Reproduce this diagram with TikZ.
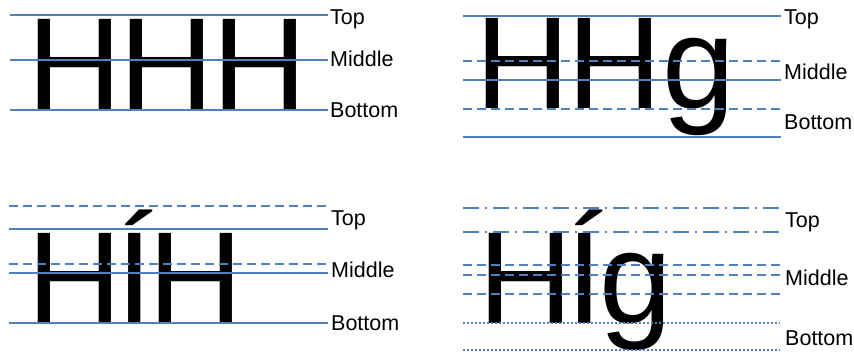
\documentclass[tikz,border=0pt]{standalone}
\usepackage{fontspec}
\setmainfont{Liberation Sans}
\definecolor{lineblue}{RGB}{79,129,189}
\tikzset{
  guide/.style={draw=lineblue,line width=1.8pt},
  dashguide/.style={guide,dash pattern=on 9pt off 5pt},
  dashdotguide/.style={guide,dash pattern=on 16pt off 6pt on 2pt off 6pt},
  dotguide/.style={guide,line width=1.8pt,dash pattern=on 2pt off 2pt},
  lbl/.style={anchor=base west,inner sep=0pt,font=\fontsize{21.5}{25}\selectfont},
  big/.style={anchor=base west,inner sep=0pt,font=\fontsize{131}{140}\selectfont}
}
\begin{document}
\begin{tikzpicture}[x=1pt,y=-1pt]
\useasboundingbox (0,0) rectangle (854,352);
% ---------- panel 1 ----------
\node[big] (w1) at (27,109.7) {H\kern-2.2pt H\kern-2.2pt H};
\draw[guide] (9.5,15.3) -- (328,15.3);
\draw[guide] (9.5,59.7) -- (328,59.7);
\draw[guide] (9.5,109.7) -- (328,109.7);
\node[lbl] (t1) at (330,25) {Top};
\node[lbl] (m1) at (330,66.7) {Middle};
\node[lbl] (b1) at (330,117.3) {Bottom};
% ---------- panel 2 ----------
\node[big] (w2) at (475,109) {H\kern-2.2pt H\kern0pt g};
\draw[guide] (463,15.7) -- (781.3,15.7);
\draw[dashguide] (463,61) -- (781.3,61);
\draw[guide] (463,79.7) -- (781.3,79.7);
\draw[dashguide] (463,109) -- (781.3,109);
\draw[guide] (463,137) -- (781.3,137);
\node[lbl] (t2) at (784,25) {Top};
\node[lbl] (m2) at (784,79.3) {Middle};
\node[lbl] (b2) at (784,129.3) {Bottom};
% ---------- panel 3 ----------
\node[big] (w3) at (27.4,323.3) {H\kern-5.9pt Í\kern-4pt H};
\draw[dashguide] (9.3,206) -- (328.3,206);
\draw[guide] (9.3,229.3) -- (328.3,229.3);
\draw[dashguide] (9.3,263.7) -- (328.3,263.7);
\draw[guide] (9.3,272.7) -- (328.3,272.7);
\draw[guide] (9.3,323.3) -- (328.3,323.3);
\node[lbl] (t3) at (331,225.3) {Top};
\node[lbl] (m3) at (331,277.7) {Middle};
\node[lbl] (b3) at (331,331) {Bottom};
% ---------- panel 4 ----------
\node[big] (w4) at (478.4,323.3) {H\kern-6.5pt Í\kern-3.4pt g};
\draw[dashdotguide] (463,208) -- (779.7,208);
\draw[dashdotguide] (463,231.7) -- (779.7,231.7);
\draw[dashguide] (463,265.3) -- (779.7,265.3);
\draw[dashguide] (463,274.7) -- (779.7,274.7);
\draw[dashguide] (463,293.7) -- (779.7,293.7);
\draw[dotguide] (463,323.3) -- (779.7,323.3);
\draw[dotguide] (463,350.3) -- (779.7,350.3);
\node[lbl] (t4) at (785,227.7) {Top};
\node[lbl] (m4) at (785,285.3) {Middle};
\node[lbl] (b4) at (785,345.3) {Bottom};
\end{tikzpicture}
\end{document}
